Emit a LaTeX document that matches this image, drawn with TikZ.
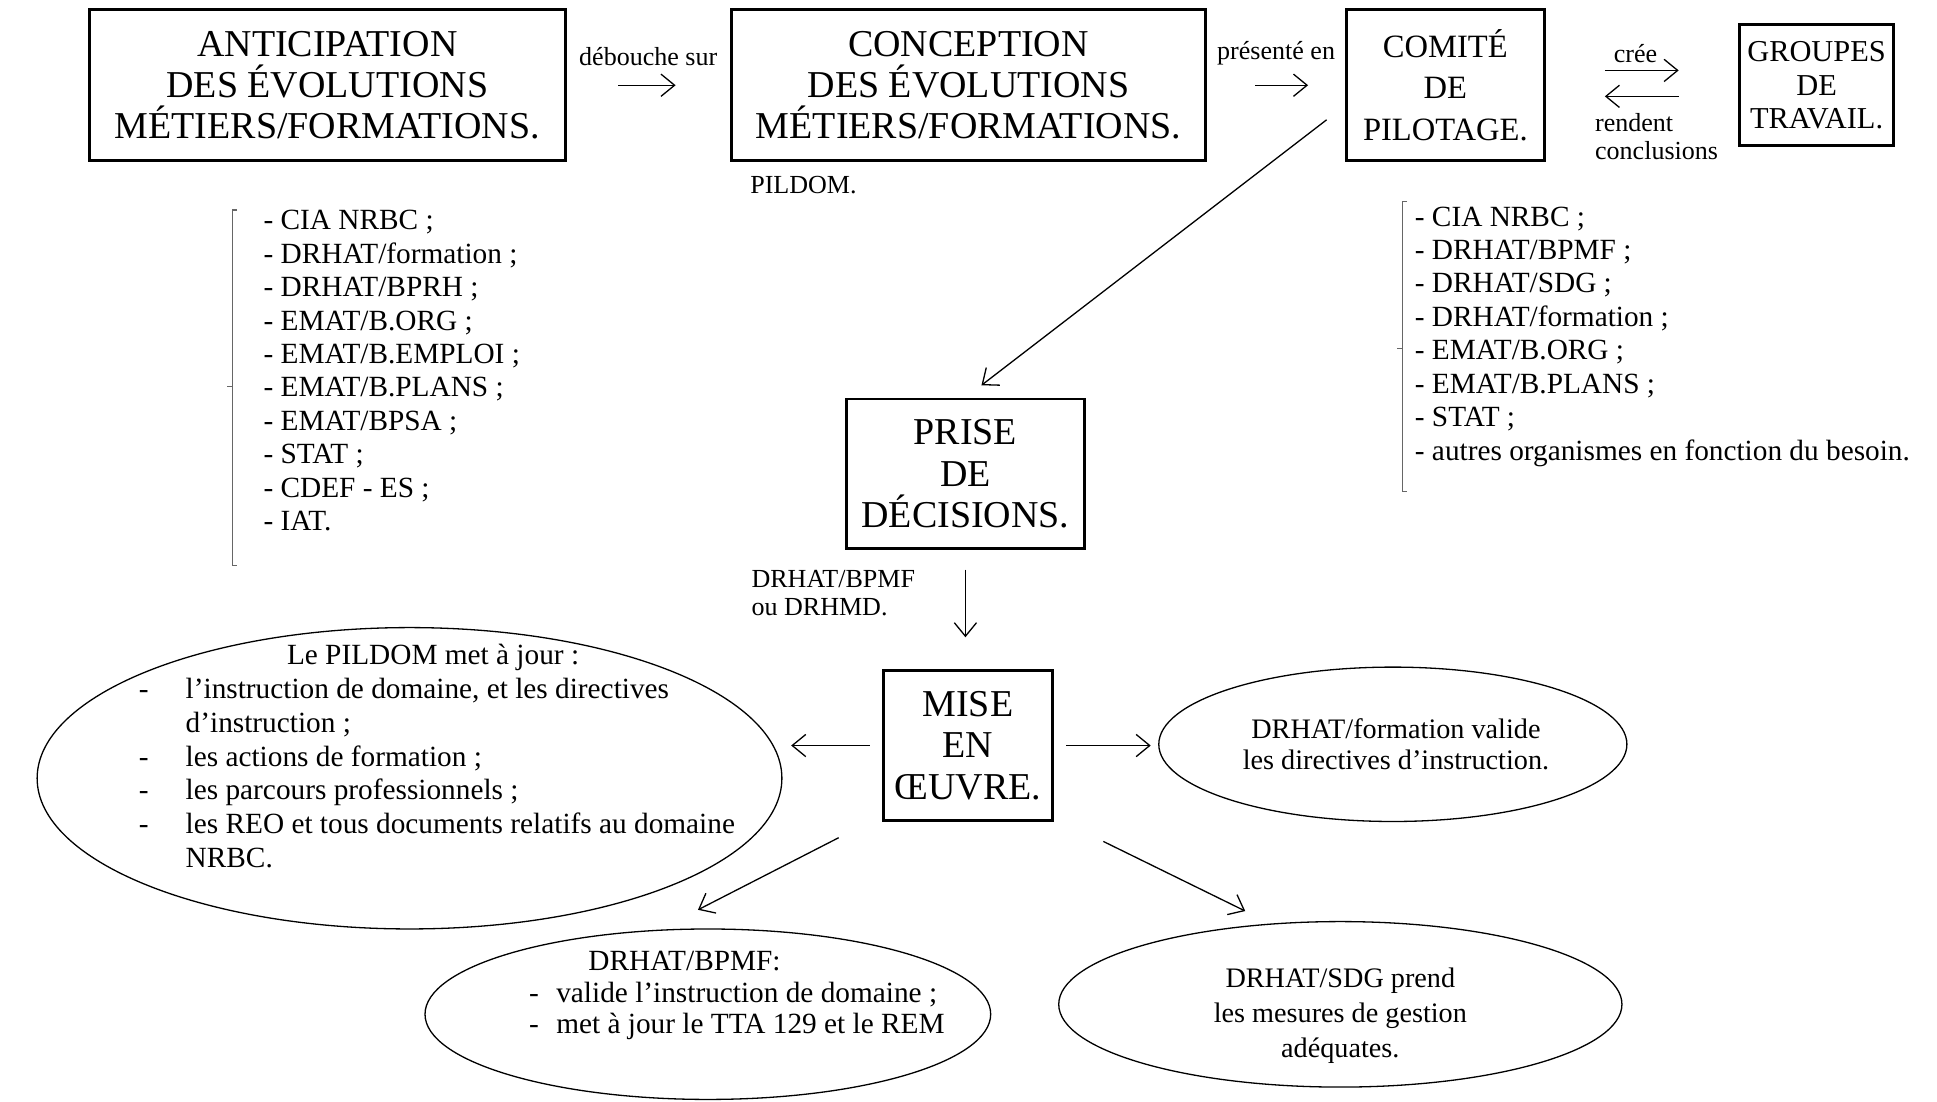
\documentclass[tikz,border=0pt]{standalone}
\usepackage{fontspec}
\setmainfont{Liberation Serif}
\usetikzlibrary{positioning, arrows.meta, shapes.geometric}

\newcommand{\fontboite}{\fontsize{17.5}{19}\selectfont}
\newcommand{\fontcomite}{\fontsize{15}{19}\selectfont}
\newcommand{\fontgroupe}{\fontsize{14}{15.4}\selectfont}
\newcommand{\fontliste}{\fontsize{13.5}{15.4}\selectfont}
\newcommand{\fontpetit}{\fontsize{12}{13}\selectfont}

\begin{document}
\begin{tikzpicture}[x=0.02cm, y=-0.02cm,
    boite/.style={draw, line width=1.3pt, align=center, inner sep=0pt},
    bulle/.style={draw, ellipse, line width=0.6pt, inner sep=0pt},
    fleche/.style={-{Straight Barb[length=2.2mm, width=3.6mm]}, line width=0.6pt},
    liste/.style={align=left, anchor=north west, inner sep=0pt, font=\fontliste},
    etiquette/.style={inner sep=0pt, font=\fontpetit},
    crochet/.style={line width=0.5pt, black!60}]
\useasboundingbox (0,0) rectangle (1568,892);

% les etapes
\node[boite, font=\fontboite, minimum width=7.7cm, minimum height=2.44cm] (anticip) at (265,69) {ANTICIPATION\\DES ÉVOLUTIONS\\MÉTIERS/FORMATIONS.};
\node[boite, font=\fontboite, minimum width=7.68cm, minimum height=2.44cm] (concep) at (784,69) {CONCEPTION\\DES ÉVOLUTIONS\\MÉTIERS/FORMATIONS.};
\node[boite, font=\fontcomite, minimum width=3.2cm, minimum height=2.44cm] (comite) at (1170,69) {COMITÉ\\DE\\PILOTAGE.};
\node[boite, font=\fontgroupe, minimum width=2.5cm, minimum height=1.96cm] (groupes) at (1470.5,69) {GROUPES\\DE\\TRAVAIL.};
\node[boite, font=\fontboite, minimum width=3.86cm, minimum height=2.42cm] (prise) at (781.5,383.5) {PRISE\\DE\\DÉCISIONS.};
\node[boite, font=\fontboite, minimum width=2.74cm, minimum height=2.42cm] (mise) at (783.5,603.5) {MISE\\EN\\ŒUVRE.};

% les bulles
\node[bulle, minimum width=12.06cm, minimum height=4.88cm] (pildom) at (331.5,630) {};
\node[bulle, minimum width=7.58cm, minimum height=2.5cm] (valide) at (1127.5,602.5) {};
\node[bulle, minimum width=9.16cm, minimum height=2.76cm] (bpmf) at (573,821) {};
\node[bulle, minimum width=9.12cm, minimum height=2.68cm] (sdg) at (1085,813) {};

% les listes
\node[liste] (acteurs) at (213,170) {- CIA NRBC ;\\- DRHAT/formation ;\\- DRHAT/BPRH ;\\- EMAT/B.ORG ;\\- EMAT/B.EMPLOI ;\\- EMAT/B.PLANS ;\\- EMAT/BPSA ;\\- STAT ;\\- CDEF - ES ;\\- IAT.};
\node[liste] (membres) at (1145,167) {- CIA NRBC ;\\- DRHAT/BPMF ;\\- DRHAT/SDG ;\\- DRHAT/formation ;\\- EMAT/B.ORG ;\\- EMAT/B.PLANS ;\\- STAT ;\\- autres organismes en fonction du besoin.};
\draw[crochet] (192,170) -- (188,170) -- (188,458) -- (192,458);
\draw[crochet] (188,313) -- (184,313);
\draw[crochet] (1139,163) -- (1135,163) -- (1135,398) -- (1139,398);
\draw[crochet] (1135,282) -- (1131,282);

\node[etiquette, anchor=west] (pilote) at (607,150) {PILDOM.};

% textes des bulles
\node[liste, font=\fontsize{13.5}{15.6}\selectfont] (pildomtexte) at (112,521) {\hspace*{2.4cm}Le PILDOM met à jour :\\
\makebox[0.76cm][l]{-}l’instruction de domaine, et les directives\\
\hspace*{0.76cm}d’instruction ;\\
\makebox[0.76cm][l]{-}les actions de formation ;\\
\makebox[0.76cm][l]{-}les parcours professionnels ;\\
\makebox[0.76cm][l]{-}les REO et tous documents relatifs au domaine\\
\hspace*{0.76cm}NRBC.};
\node[font=\fontsize{13}{14.2}\selectfont, align=center, inner sep=0pt] (validetexte) at (1130,602.5) {DRHAT/formation valide\\les directives d’instruction.};
\node[liste, font=\fontsize{13.5}{14.5}\selectfont] (bpmftexte) at (428,770) {\hspace*{0.96cm}DRHAT/BPMF:\\
\makebox[0.44cm][l]{-}valide l’instruction de domaine ;\\
\makebox[0.44cm][l]{-}met à jour le TTA 129 et le REM};
\node[font=\fontsize{13}{16.2}\selectfont, align=center, inner sep=0pt] (sdgtexte) at (1085,822) {DRHAT/SDG prend\\les mesures de gestion\\adéquates.};

% les liens
\draw[fleche, shorten <=0.84cm, shorten >=0.88cm] (anticip) -- node[etiquette, above=0.31cm] (debouche) {débouche sur} (concep);
\draw[fleche, shorten <=0.78cm, shorten >=0.6cm] (concep) -- node[etiquette, above=0.31cm] (presente) {présenté en} (comite);
\draw[fleche, shorten <=0.96cm, shorten >=0.96cm] ([yshift=0.24cm]comite.east) -- node[etiquette, above=0.12cm, xshift=-0.1cm] (cree) {crée} ([yshift=0.24cm]groupes.west);
\draw[fleche, shorten <=0.96cm, shorten >=0.96cm] ([yshift=-0.18cm]groupes.west) -- node[etiquette, below=0.26cm, xshift=0.24cm, align=left] (rendent) {rendent\\conclusions} ([yshift=-0.18cm]comite.east);
\draw[fleche] ([xshift=-0.3cm, yshift=-0.56cm]comite.west) -- ([xshift=0.26cm, yshift=0.2cm]prise.north);
\draw[fleche, shorten <=0.32cm, shorten >=0.52cm] (prise.south) -- (prise.south |- mise.north);
\node[etiquette, anchor=west, align=left] (decideur) at (608,480) {DRHAT/BPMF\\ou DRHMD.};
\draw[fleche, shorten <=0.2cm, shorten >=0.14cm] (mise.west) -- (mise.west -| pildom.east);
\draw[fleche, shorten <=0.2cm, shorten >=0.12cm] (mise.east) -- (mise.east -| valide.west);
\draw[fleche] ([xshift=-0.7cm, yshift=-0.26cm]mise.south west) -- ([xshift=-0.16cm, yshift=0.3cm]bpmf.north);
\draw[fleche] ([xshift=0.8cm, yshift=-0.32cm]mise.south east) -- ([xshift=-1.54cm, yshift=0.16cm]sdg.north);
\end{tikzpicture}
\end{document}
